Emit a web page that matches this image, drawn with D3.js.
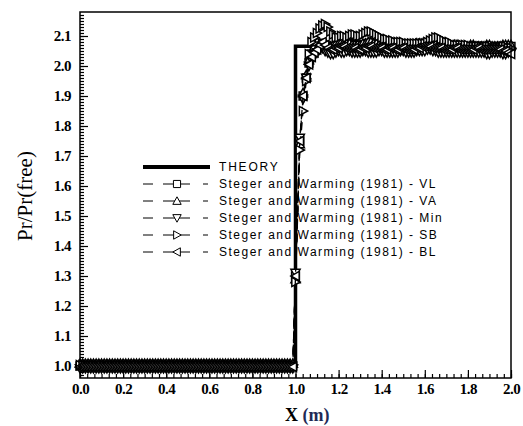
<!DOCTYPE html>
<html>
<head>
<meta charset="utf-8">
<script src="https://cdn.jsdelivr.net/npm/d3@7"></script>
<style>
  body { margin: 0; background: #fff; }
  svg { display: block; }
</style>
</head>
<body>
<svg></svg>
<script>
// sample positions (m): upstream, shock, downstream
var xs = [0.0000, 0.0125, 0.0250, 0.0375, 0.0500, 0.0625, 0.0750, 0.0875, 0.1000, 0.1125,
          0.1250, 0.1375, 0.1500, 0.1625, 0.1750, 0.1875, 0.2000, 0.2125, 0.2250, 0.2375,
          0.2500, 0.2625, 0.2750, 0.2875, 0.3000, 0.3125, 0.3250, 0.3375, 0.3500, 0.3625,
          0.3750, 0.3875, 0.4000, 0.4125, 0.4250, 0.4375, 0.4500, 0.4625, 0.4750, 0.4875,
          0.5000, 0.5125, 0.5250, 0.5375, 0.5500, 0.5625, 0.5750, 0.5875, 0.6000, 0.6125,
          0.6250, 0.6375, 0.6500, 0.6625, 0.6750, 0.6875, 0.7000, 0.7125, 0.7250, 0.7375,
          0.7500, 0.7625, 0.7750, 0.7875, 0.8000, 0.8125, 0.8250, 0.8375, 0.8500, 0.8625,
          0.8750, 0.8875, 0.9000, 0.9125, 0.9250, 0.9375, 0.9500, 0.9625, 0.9750, 0.9875,
          1.0000, 1.0200, 1.0350, 1.0500,
          1.0625, 1.0750, 1.0875, 1.1000, 1.1125, 1.1250, 1.1375, 1.1500, 1.1625, 1.1750,
          1.1875, 1.2000, 1.2125, 1.2250, 1.2375, 1.2500, 1.2625, 1.2750, 1.2875, 1.3000,
          1.3125, 1.3250, 1.3375, 1.3500, 1.3625, 1.3750, 1.3875, 1.4000, 1.4125, 1.4250,
          1.4375, 1.4500, 1.4625, 1.4750, 1.4875, 1.5000, 1.5125, 1.5250, 1.5375, 1.5500,
          1.5625, 1.5750, 1.5875, 1.6000, 1.6125, 1.6250, 1.6375, 1.6500, 1.6625, 1.6750,
          1.6875, 1.7000, 1.7125, 1.7250, 1.7375, 1.7500, 1.7625, 1.7750, 1.7875, 1.8000,
          1.8125, 1.8250, 1.8375, 1.8500, 1.8625, 1.8750, 1.8875, 1.9000, 1.9125, 1.9250,
          1.9375, 1.9500, 1.9625, 1.9750, 1.9875, 2.0000];

var theoryX = [0.0, 1.0, 1.0, 2.0];
var theoryY = [1.0, 1.0, 2.066, 2.066];

var vl = [1.000, 1.000, 1.000, 1.000, 1.000, 1.000, 1.000, 1.000, 1.000, 1.000,
          1.000, 1.000, 1.000, 1.000, 1.000, 1.000, 1.000, 1.000, 1.000, 1.000,
          1.000, 1.000, 1.000, 1.000, 1.000, 1.000, 1.000, 1.000, 1.000, 1.000,
          1.000, 1.000, 1.000, 1.000, 1.000, 1.000, 1.000, 1.000, 1.000, 1.000,
          1.000, 1.000, 1.000, 1.000, 1.000, 1.000, 1.000, 1.000, 1.000, 1.000,
          1.000, 1.000, 1.000, 1.000, 1.000, 1.000, 1.000, 1.000, 1.000, 1.000,
          1.000, 1.000, 1.000, 1.000, 1.000, 1.000, 1.000, 1.000, 1.000, 1.000,
          1.000, 1.000, 1.000, 1.000, 1.000, 1.000, 1.000, 1.000, 1.000, 1.000,
          1.300, 1.750, 1.900, 1.960,
          2.010, 2.040, 2.055, 2.065, 2.075, 2.075, 2.070, 2.065, 2.060, 2.060,
          2.060, 2.065, 2.070, 2.070, 2.075, 2.075, 2.070, 2.070, 2.065, 2.065,
          2.070, 2.070, 2.075, 2.075, 2.070, 2.070, 2.065, 2.065, 2.065, 2.065,
          2.070, 2.070, 2.065, 2.065, 2.065, 2.065, 2.060, 2.060, 2.065, 2.065,
          2.070, 2.070, 2.070, 2.070, 2.075, 2.075, 2.070, 2.070, 2.065, 2.065,
          2.065, 2.065, 2.060, 2.060, 2.065, 2.065, 2.065, 2.065, 2.060, 2.060,
          2.060, 2.060, 2.065, 2.065, 2.060, 2.060, 2.060, 2.060, 2.065, 2.065,
          2.060, 2.060, 2.060, 2.060, 2.065, 2.065];

var va = [1.008, 1.008, 1.008, 1.008, 1.008, 1.008, 1.008, 1.008, 1.008, 1.008,
          1.008, 1.008, 1.008, 1.008, 1.008, 1.008, 1.008, 1.008, 1.008, 1.008,
          1.008, 1.008, 1.008, 1.008, 1.008, 1.008, 1.008, 1.008, 1.008, 1.008,
          1.008, 1.008, 1.008, 1.008, 1.008, 1.008, 1.008, 1.008, 1.008, 1.008,
          1.008, 1.008, 1.008, 1.008, 1.008, 1.008, 1.008, 1.008, 1.008, 1.008,
          1.008, 1.008, 1.008, 1.008, 1.008, 1.008, 1.008, 1.008, 1.008, 1.008,
          1.008, 1.008, 1.008, 1.008, 1.008, 1.008, 1.008, 1.008, 1.008, 1.008,
          1.008, 1.008, 1.008, 1.008, 1.008, 1.008, 1.008, 1.008, 1.008, 1.008,
          1.290, 1.740, 1.910, 1.970,
          2.020, 2.045, 2.065, 2.080, 2.075, 2.070, 2.065, 2.060, 2.065, 2.070,
          2.075, 2.075, 2.080, 2.080, 2.075, 2.075, 2.070, 2.070, 2.070, 2.070,
          2.075, 2.075, 2.080, 2.080, 2.075, 2.075, 2.070, 2.070, 2.070, 2.070,
          2.065, 2.065, 2.070, 2.070, 2.070, 2.070, 2.065, 2.065, 2.070, 2.070,
          2.075, 2.075, 2.075, 2.075, 2.080, 2.080, 2.075, 2.075, 2.070, 2.070,
          2.070, 2.070, 2.065, 2.065, 2.070, 2.070, 2.065, 2.065, 2.065, 2.065,
          2.070, 2.070, 2.065, 2.065, 2.065, 2.065, 2.070, 2.070, 2.065, 2.065,
          2.065, 2.065, 2.070, 2.070, 2.070, 2.070];

var mn = [0.992, 0.992, 0.992, 0.992, 0.992, 0.992, 0.992, 0.992, 0.992, 0.992,
          0.992, 0.992, 0.992, 0.992, 0.992, 0.992, 0.992, 0.992, 0.992, 0.992,
          0.992, 0.992, 0.992, 0.992, 0.992, 0.992, 0.992, 0.992, 0.992, 0.992,
          0.992, 0.992, 0.992, 0.992, 0.992, 0.992, 0.992, 0.992, 0.992, 0.992,
          0.992, 0.992, 0.992, 0.992, 0.992, 0.992, 0.992, 0.992, 0.992, 0.992,
          0.992, 0.992, 0.992, 0.992, 0.992, 0.992, 0.992, 0.992, 0.992, 0.992,
          0.992, 0.992, 0.992, 0.992, 0.992, 0.992, 0.992, 0.992, 0.992, 0.992,
          0.992, 0.992, 0.992, 0.992, 0.992, 0.992, 0.992, 0.992, 0.992, 0.992,
          1.310, 1.760, 1.890, 1.960,
          2.000, 2.020, 2.035, 2.045, 2.055, 2.060, 2.050, 2.045, 2.040, 2.040,
          2.045, 2.050, 2.045, 2.045, 2.050, 2.050, 2.045, 2.045, 2.045, 2.045,
          2.050, 2.050, 2.045, 2.045, 2.045, 2.045, 2.050, 2.050, 2.045, 2.045,
          2.045, 2.045, 2.045, 2.045, 2.050, 2.050, 2.045, 2.045, 2.045, 2.045,
          2.050, 2.050, 2.050, 2.050, 2.055, 2.055, 2.050, 2.050, 2.045, 2.045,
          2.045, 2.045, 2.045, 2.045, 2.045, 2.045, 2.045, 2.045, 2.045, 2.045,
          2.045, 2.045, 2.045, 2.045, 2.045, 2.045, 2.040, 2.040, 2.045, 2.045,
          2.045, 2.045, 2.040, 2.040, 2.045, 2.045];

var sb = [1.003, 1.003, 1.003, 1.003, 1.003, 1.003, 1.003, 1.003, 1.003, 1.003,
          1.003, 1.003, 1.003, 1.003, 1.003, 1.003, 1.003, 1.003, 1.003, 1.003,
          1.003, 1.003, 1.003, 1.003, 1.003, 1.003, 1.003, 1.003, 1.003, 1.003,
          1.003, 1.003, 1.003, 1.003, 1.003, 1.003, 1.003, 1.003, 1.003, 1.003,
          1.003, 1.003, 1.003, 1.003, 1.003, 1.003, 1.003, 1.003, 1.003, 1.003,
          1.003, 1.003, 1.003, 1.003, 1.003, 1.003, 1.003, 1.003, 1.003, 1.003,
          1.003, 1.003, 1.003, 1.003, 1.003, 1.003, 1.003, 1.003, 1.003, 1.003,
          1.003, 1.003, 1.003, 1.003, 1.003, 1.003, 1.003, 1.003, 1.003, 1.003,
          1.280, 1.720, 1.850, 1.950,
          2.040, 2.080, 2.095, 2.110, 2.125, 2.135, 2.140, 2.130, 2.115, 2.105,
          2.095, 2.095, 2.100, 2.100, 2.095, 2.100, 2.105, 2.105, 2.100, 2.100,
          2.105, 2.110, 2.115, 2.115, 2.110, 2.105, 2.100, 2.095, 2.090, 2.090,
          2.085, 2.085, 2.080, 2.080, 2.080, 2.080, 2.075, 2.075, 2.075, 2.075,
          2.075, 2.075, 2.075, 2.075, 2.080, 2.085, 2.090, 2.095, 2.095, 2.090,
          2.085, 2.080, 2.080, 2.075, 2.070, 2.070, 2.070, 2.070, 2.070, 2.070,
          2.065, 2.065, 2.065, 2.065, 2.065, 2.065, 2.065, 2.065, 2.060, 2.060,
          2.060, 2.060, 2.065, 2.065, 2.060, 2.060];

var bl = [0.997, 0.997, 0.997, 0.997, 0.997, 0.997, 0.997, 0.997, 0.997, 0.997,
          0.997, 0.997, 0.997, 0.997, 0.997, 0.997, 0.997, 0.997, 0.997, 0.997,
          0.997, 0.997, 0.997, 0.997, 0.997, 0.997, 0.997, 0.997, 0.997, 0.997,
          0.997, 0.997, 0.997, 0.997, 0.997, 0.997, 0.997, 0.997, 0.997, 0.997,
          0.997, 0.997, 0.997, 0.997, 0.997, 0.997, 0.997, 0.997, 0.997, 0.997,
          0.997, 0.997, 0.997, 0.997, 0.997, 0.997, 0.997, 0.997, 0.997, 0.997,
          0.997, 0.997, 0.997, 0.997, 0.997, 0.997, 0.997, 0.997, 0.997, 0.997,
          0.997, 0.997, 0.997, 0.997, 0.997, 0.997, 0.997, 0.997, 0.997, 0.997,
          1.300, 1.750, 1.900, 1.960,
          2.005, 2.030, 2.045, 2.055, 2.070, 2.080, 2.070, 2.060, 2.055, 2.055,
          2.060, 2.060, 2.065, 2.065, 2.060, 2.060, 2.060, 2.060, 2.055, 2.055,
          2.060, 2.060, 2.065, 2.065, 2.060, 2.060, 2.060, 2.060, 2.055, 2.055,
          2.060, 2.060, 2.055, 2.055, 2.060, 2.060, 2.055, 2.055, 2.055, 2.055,
          2.060, 2.060, 2.065, 2.065, 2.065, 2.065, 2.060, 2.060, 2.060, 2.060,
          2.055, 2.055, 2.055, 2.055, 2.060, 2.060, 2.055, 2.055, 2.055, 2.055,
          2.055, 2.055, 2.060, 2.060, 2.055, 2.055, 2.055, 2.055, 2.055, 2.055,
          2.055, 2.055, 2.050, 2.050, 2.045, 2.040];

var seriesNames = ["Steger and Warming (1981) - VL",
                   "Steger and Warming (1981) - VA",
                   "Steger and Warming (1981) - Min",
                   "Steger and Warming (1981) - SB",
                   "Steger and Warming (1981) - BL"];
var seriesVals = [vl, va, mn, sb, bl];
var seriesMarks = ["square", "up", "down", "right", "left"];

var xTicks = [0.0, 0.2, 0.4, 0.6, 0.8, 1.0, 1.2, 1.4, 1.6, 1.8, 2.0];
var yTicks = [1.0, 1.1, 1.2, 1.3, 1.4, 1.5, 1.6, 1.7, 1.8, 1.9, 2.0, 2.1];

var W = 523, H = 426;
var svg = d3.select("svg").attr("width", W).attr("height", H);

var x = d3.scaleLinear().domain([0, 2]).range([80, 511]);
var y = d3.scaleLinear().domain([0.96, 2.18]).range([378, 12]);

// marker path, centred on 0,0, s = half size
function markPath(kind, s) {
  var q = s * 0.85;
  if (kind == "square") return "M" + (-q) + "," + (-q) + "H" + q + "V" + q + "H" + (-q) + "Z";
  if (kind == "up") return "M0," + (-s) + "L" + s + "," + (s*0.8) + "L" + (-s) + "," + (s*0.8) + "Z";
  if (kind == "down") return "M0," + s + "L" + s + "," + (-s*0.8) + "L" + (-s) + "," + (-s*0.8) + "Z";
  if (kind == "right") return "M" + s + ",0L" + (-s*0.8) + "," + s + "L" + (-s*0.8) + "," + (-s) + "Z";
  return "M" + (-s) + ",0L" + (s*0.8) + "," + s + "L" + (s*0.8) + "," + (-s) + "Z";
}

// axes ticks (inward)
var axisFont = "bold 15px 'Liberation Serif', 'Times New Roman', serif";

var yMinor = d3.range(97, 218).map(function(v) { return v / 100; });
svg.append("g").attr("transform", "translate(80,0)")
  .call(d3.axisLeft(y).tickValues(yMinor).tickSize(-4).tickFormat(""))
  .call(function(g) { g.select(".domain").remove(); });
svg.append("g").attr("transform", "translate(80,0)")
  .call(d3.axisLeft(y).tickValues(yTicks).tickSize(-8).tickPadding(9).tickFormat(d3.format(".1f")))
  .call(function(g) { g.select(".domain").remove(); })
  .selectAll("text").style("font", axisFont).attr("letter-spacing", "-0.5");

var xMinor = d3.range(0, 61).map(function(v) { return v / 30; });
svg.append("g").attr("transform", "translate(0,378)")
  .call(d3.axisBottom(x).tickValues(xMinor).tickSize(-4).tickFormat(""))
  .call(function(g) { g.select(".domain").remove(); });
svg.append("g").attr("transform", "translate(0,378)")
  .call(d3.axisBottom(x).tickValues(xTicks).tickSize(-8).tickPadding(5).tickFormat(d3.format(".1f")))
  .call(function(g) { g.select(".domain").remove(); })
  .selectAll("text").style("font", axisFont).attr("letter-spacing", "-0.5");

svg.selectAll(".tick line").attr("stroke", "#000").attr("stroke-width", 1.2);

var line = d3.line()
  .x(function(d) { return x(d[0]); })
  .y(function(d) { return y(d[1]); });

// theory step (drawn under the data)
svg.append("path")
  .attr("d", line(theoryX.map(function(v, i) { return [v, theoryY[i]]; })))
  .attr("fill", "none")
  .attr("stroke", "#000")
  .attr("stroke-width", 3.5);

// data series: dashed lines + hollow markers
seriesVals.forEach(function(vals, k) {
  var pts = xs.map(function(xv, i) { return [xv, vals[i]]; });
  svg.append("path")
    .attr("d", line(pts))
    .attr("fill", "none")
    .attr("stroke", "#000")
    .attr("stroke-width", 1.3)
    .attr("stroke-dasharray", "8,6");
  svg.append("g").selectAll("path")
    .data(pts)
    .enter()
    .append("path")
    .attr("d", markPath(seriesMarks[k], 4.6))
    .attr("transform", function(d) { return "translate(" + x(d[0]) + "," + y(d[1]) + ")"; })
    .attr("fill", "#fff")
    .attr("stroke", "#000")
    .attr("stroke-width", 1.5);
});

// frame
svg.append("rect")
  .attr("x", 80).attr("y", 12)
  .attr("width", 431).attr("height", 366)
  .attr("fill", "none").attr("stroke", "#000").attr("stroke-width", 1.5);

// legend
var legFont = "12px 'Liberation Sans', Arial, sans-serif";
var leg = svg.append("g");
leg.append("line")
  .attr("x1", 143).attr("x2", 210).attr("y1", 167).attr("y2", 167)
  .attr("stroke", "#000").attr("stroke-width", 4);
leg.append("text")
  .attr("x", 219).attr("y", 171)
  .style("font", legFont).attr("letter-spacing", "1.8")
  .text("THEORY");

seriesNames.forEach(function(name, k) {
  var ly = 184 + k * 17;
  var g = leg.append("g");
  g.append("line").attr("x1", 143).attr("x2", 153).attr("y1", ly).attr("y2", ly).attr("stroke", "#000");
  g.append("line").attr("x1", 163).attr("x2", 190).attr("y1", ly).attr("y2", ly).attr("stroke", "#000");
  g.append("line").attr("x1", 203).attr("x2", 208).attr("y1", ly).attr("y2", ly).attr("stroke", "#000");
  g.append("path")
    .attr("d", markPath(seriesMarks[k], 4.2))
    .attr("transform", "translate(177," + ly + ")")
    .attr("fill", "#fff").attr("stroke", "#000");
  g.append("text")
    .attr("x", 219).attr("y", ly + 4)
    .style("font", legFont).attr("letter-spacing", "1.5")
    .text(name);
});

// axis titles
svg.append("text")
  .attr("transform", "translate(32,196) rotate(-90)")
  .attr("text-anchor", "middle")
  .style("font", "21px 'Liberation Serif', 'Times New Roman', serif")
  .text("Pr/Pr(free)");

var xl = svg.append("text")
  .attr("x", 285).attr("y", 421)
  .style("font", "bold 18px 'Liberation Serif', 'Times New Roman', serif");
xl.append("tspan").text("X ");
xl.append("tspan").attr("fill", "#1f2a55").text("(m)");
</script>
</body>
</html>
